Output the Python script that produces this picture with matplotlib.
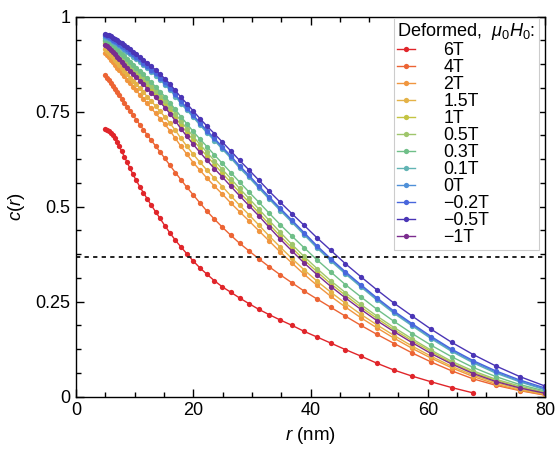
import matplotlib
matplotlib.use('Agg')
import matplotlib.pyplot as plt
import numpy as np
from matplotlib.ticker import MultipleLocator, FuncFormatter

plt.rcParams['font.family'] = ['Liberation Sans', 'DejaVu Sans']
plt.rcParams['mathtext.fontset'] = 'custom'
plt.rcParams['mathtext.rm'] = 'Liberation Sans'
plt.rcParams['mathtext.it'] = 'Liberation Sans:italic'

# radial grid (nm), shared by all curves
r_nm = [5.00, 5.29, 5.59, 5.91, 6.24, 6.60, 6.97, 7.37, 7.79, 8.24,
        8.71, 9.20, 9.73, 10.28, 10.87, 11.49, 12.14, 12.83, 13.57, 14.34,
        15.16, 16.02, 16.94, 17.90, 18.92, 20.00, 21.14, 22.35, 23.62, 24.97,
        26.39, 27.89, 29.49, 31.17, 32.94, 34.82, 36.81, 38.91, 41.12, 43.47,
        45.95, 48.57, 51.34, 54.26, 57.36, 60.63, 64.09, 67.74, 71.60, 75.69,
        80.00]

c_6T = [.705, .703, .699, .694, .688, .680, .670, .659, .646, .632,
        .617, .601, .585, .569, .553, .537, .521, .504, .487, .469,
        .450, .431, .412, .394, .376, .357, .339, .322, .305, .289,
        .275, .260, .245, .230, .216, .202, .188, .172, .157, .141,
        .124, .107, .088, .070, .054, .039, .024, .010]
c_4T = [.846, .840, .833, .826, .818, .810, .802, .793, .784, .774,
        .763, .752, .741, .729, .716, .703, .689, .675, .660, .644,
        .627, .609, .590, .571, .551, .531, .510, .488, .467, .446,
        .425, .404, .384, .363, .342, .321, .300, .278, .257, .235,
        .212, .188, .164, .140, .115, .091, .068, .047, .030, .016,
        .004]
c_2T = [.904, .899, .893, .886, .880, .873, .866, .859, .851, .843,
        .834, .825, .815, .806, .795, .784, .772, .759, .746, .732,
        .717, .700, .680, .659, .638, .616, .596, .575, .554, .533,
        .510, .487, .463, .437, .410, .381, .352, .322, .293, .264,
        .236, .208, .181, .154, .127, .101, .076, .053, .033, .017,
        .005]
c_1p5T = [.914, .910, .905, .899, .893, .887, .880, .873, .866, .858,
          .849, .840, .831, .822, .812, .801, .790, .778, .765, .751,
          .736, .720, .701, .680, .659, .638, .617, .596, .575, .553,
          .529, .504, .479, .452, .423, .394, .364, .334, .304, .275,
          .246, .217, .189, .161, .133, .106, .080, .057, .037, .020,
          .007]
c_1T = [.930, .926, .922, .917, .912, .906, .900, .894, .888, .881,
        .874, .866, .858, .849, .840, .830, .820, .809, .797, .784,
        .770, .754, .735, .715, .695, .675, .654, .633, .611, .588,
        .564, .538, .512, .484, .454, .423, .392, .360, .329, .297,
        .267, .236, .206, .176, .147, .118, .089, .064, .043, .025,
        .010]
c_0p5T = [.935, .931, .927, .922, .917, .912, .906, .900, .894, .888,
          .881, .873, .865, .857, .848, .838, .828, .817, .805, .792,
          .779, .763, .745, .725, .705, .685, .664, .643, .621, .598,
          .574, .548, .522, .494, .464, .433, .401, .369, .337, .305,
          .274, .243, .212, .182, .152, .122, .093, .068, .046, .028,
          .012]
c_0p3T = [.940, .937, .933, .929, .924, .919, .914, .908, .902, .896,
          .889, .882, .874, .866, .857, .848, .838, .827, .816, .803,
          .790, .774, .756, .737, .718, .698, .678, .658, .636, .614,
          .590, .565, .539, .512, .483, .453, .423, .392, .360, .328,
          .295, .263, .230, .198, .166, .135, .105, .077, .053, .032,
          .015]
c_0p1T = [.945, .943, .941, .938, .934, .931, .927, .923, .918, .913,
          .908, .902, .895, .889, .882, .873, .865, .855, .845, .833,
          .821, .807, .790, .771, .754, .735, .715, .694, .674, .651,
          .628, .602, .577, .549, .520, .490, .459, .426, .391, .357,
          .323, .289, .254, .219, .186, .152, .119, .089, .062, .039,
          .018]
c_0T = [.948, .946, .944, .941, .937, .934, .930, .926, .921, .916,
        .911, .905, .898, .892, .885, .876, .868, .858, .848, .836,
        .824, .810, .793, .774, .757, .738, .718, .697, .677, .654,
        .631, .605, .580, .552, .523, .493, .462, .429, .394, .360,
        .326, .292, .257, .222, .189, .155, .122, .092, .065, .041,
        .020]
c_m0p2T = [.951, .949, .947, .944, .940, .937, .933, .929, .924, .919,
           .914, .908, .901, .895, .888, .879, .871, .861, .851, .839,
           .827, .813, .796, .777, .760, .741, .721, .700, .680, .657,
           .634, .608, .583, .555, .526, .496, .465, .432, .397, .363,
           .329, .295, .260, .225, .192, .158, .125, .095, .068, .044,
           .023]
c_m0p5T = [.955, .953, .951, .948, .945, .942, .938, .934, .930, .925,
           .920, .914, .908, .902, .895, .887, .879, .870, .860, .849,
           .837, .823, .806, .788, .771, .752, .732, .712, .692, .670,
           .647, .622, .597, .570, .541, .512, .482, .451, .418, .385,
           .350, .316, .281, .246, .212, .177, .143, .111, .081, .053,
           .028]
c_m1T = [.926, .922, .917, .912, .907, .901, .895, .889, .882, .874,
         .866, .858, .850, .841, .832, .822, .811, .800, .788, .775,
         .761, .745, .726, .705, .685, .664, .643, .622, .600, .578,
         .554, .529, .503, .476, .446, .415, .384, .352, .321, .290,
         .260, .230, .200, .171, .142, .113, .086, .061, .040, .023,
         .009]

labels = ['6T', '4T', '2T', '1.5T', '1T', '0.5T', '0.3T', '0.1T', '0T',
          '\u22120.2T', '\u22120.5T', '\u22121T']
series = [c_6T, c_4T, c_2T, c_1p5T, c_1T, c_0p5T, c_0p3T, c_0p1T, c_0T,
          c_m0p2T, c_m0p5T, c_m1T]
colors = ['#e0252a', '#ec6434', '#f0963f', '#e4b247', '#c4c442', '#9fc66c',
          '#6fbf88', '#62b4b4', '#4f90d8', '#4866dc', '#4a35b6', '#7b2c8e']

fig = plt.figure(figsize=(5.57, 4.51), dpi=100)
ax = fig.add_axes([76 / 557, 54.3 / 451, 469 / 557, 380 / 451])

for lab, c, col in zip(labels, series, colors):
    ax.plot(r_nm[:len(c)], c, '-o', color=col, lw=1.0, ms=3.8, mew=0, label=lab)

ax.axhline(np.exp(-1), color='#222222', ls=(0, (2.2, 2.2)), lw=1.4)

ax.set_xlim(0, 80)
ax.set_ylim(0, 1)
ax.xaxis.set_major_locator(MultipleLocator(20))
ax.xaxis.set_minor_locator(MultipleLocator(5))
ax.yaxis.set_major_locator(MultipleLocator(0.25))
ax.yaxis.set_minor_locator(MultipleLocator(0.0625))
ax.yaxis.set_major_formatter(FuncFormatter(lambda v, p: '%g' % v))
ax.tick_params(which='both', direction='in', top=True, right=True, width=1,
               labelsize=13)
ax.tick_params(which='major', length=6, pad=4)
ax.tick_params(which='minor', length=3.5)
for s in ax.spines.values():
    s.set_linewidth(1.0)

ax.set_xlabel('$r$ (nm)', fontsize=13.5, labelpad=4)
ax.set_ylabel('$c(r)$', fontsize=13.5, labelpad=6)

leg = ax.legend(title='Deformed,  $\\mu_0H_0$:', loc='upper right',
                bbox_to_anchor=(0.987, 0.997), borderaxespad=0, fancybox=False,
                edgecolor='#cccccc', framealpha=1, fontsize=12.8,
                title_fontsize=13.1, handlelength=1.0, handletextpad=1.6,
                labelspacing=0.0, borderpad=0.2, numpoints=1, alignment='left')
leg.get_frame().set_linewidth(0.8)

fig.savefig('out.png', dpi=100)
